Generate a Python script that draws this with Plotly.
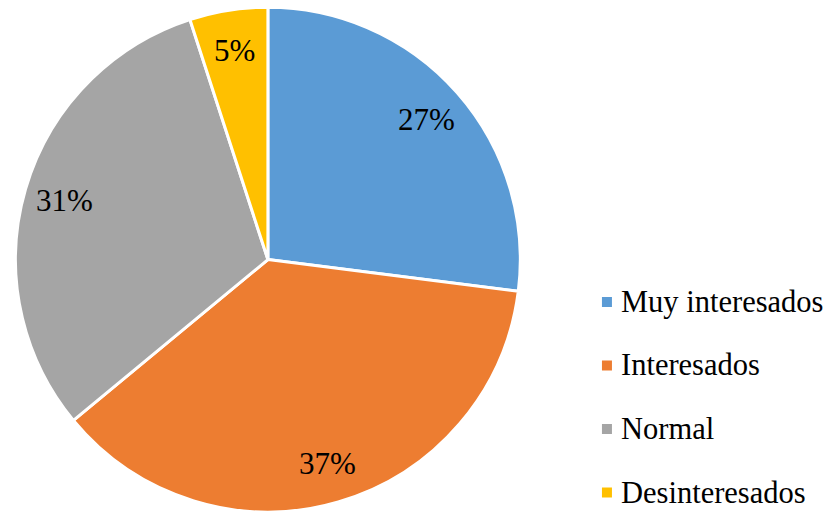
import math
import plotly.graph_objects as go

categories = ["Muy interesados", "Interesados", "Normal", "Desinteresados"]
values = [27, 37, 31, 5]
colors = ["#5B9BD5", "#ED7D31", "#A5A5A5", "#FFC000"]

FONT = "'Liberation Serif', 'Times New Roman', Times, 'DejaVu Serif', serif"
W, H = 832, 513
dom_x = [0.018, 0.626]
dom_y = [0.002, 0.986]

fig = go.Figure()
fig.add_trace(go.Pie(
    labels=categories,
    values=values,
    sort=False,
    direction="clockwise",
    rotation=0,
    marker=dict(colors=colors, line=dict(color="white", width=3)),
    textinfo="none",
    domain=dict(x=dom_x, y=dom_y),
    showlegend=False,
    hoverinfo="label+percent",
))

# percentage labels placed along each slice bisector
cx = (dom_x[0] + dom_x[1]) / 2 * W
cy = (dom_y[0] + dom_y[1]) / 2 * H
R = min((dom_x[1] - dom_x[0]) * W, (dom_y[1] - dom_y[0]) * H) / 2
total = sum(values)
cum = 0
for v in values:
    mid = (cum + v / 2) / total * 2 * math.pi
    cum += v
    px = cx + 0.84 * R * math.sin(mid)
    py = cy + 0.84 * R * math.cos(mid)
    fig.add_annotation(x=px / W, y=py / H, xref="paper", yref="paper",
                       text=f"{round(v / total * 100)}%", showarrow=False,
                       xanchor="center", yanchor="middle",
                       font=dict(family=FONT, size=31, color="black"))

# manual legend (spacing matches reference)
leg_x = 0.7235
leg_top = 1 - 302 / H
leg_step = 63.5 / H
for i, (name, col) in enumerate(zip(categories, colors)):
    yc = leg_top - i * leg_step
    fig.add_shape(type="rect", xref="paper", yref="paper",
                  x0=leg_x, x1=leg_x + 10 / W,
                  y0=yc - 5 / H, y1=yc + 5 / H,
                  fillcolor=col, line=dict(width=0))
    fig.add_annotation(x=leg_x + 17 / W, y=yc, xref="paper", yref="paper",
                       text=name, showarrow=False, xanchor="left", yanchor="middle",
                       font=dict(family=FONT, size=30.5, color="black"))

fig.update_layout(
    width=W, height=H,
    margin=dict(l=0, r=0, t=0, b=0),
    paper_bgcolor="white", plot_bgcolor="white",
)

fig.write_html("out.html", config={"displayModeBar": False})
with open("out.html", "r", encoding="utf-8") as f:
    html = f.read()
html = html.replace("<head>", "<head><style>html,body{margin:0;padding:0;overflow:hidden;}</style>", 1)
with open("out.html", "w", encoding="utf-8") as f:
    f.write(html)
